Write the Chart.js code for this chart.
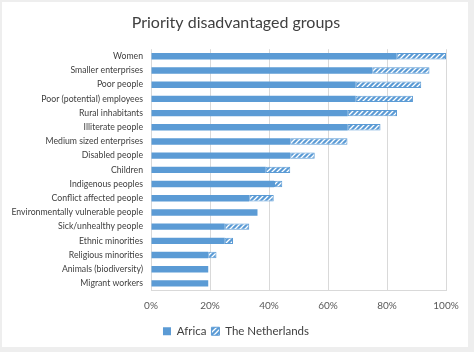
<!DOCTYPE html>
<html>
<head>
<meta charset="utf-8">
<script src="https://cdn.jsdelivr.net/npm/chart.js@4"></script>
<style>
  body { margin: 0; background: #eeeeee; }
  #box { position: absolute; left: 2px; top: 2px; width: 466px; height: 345px; background: #ffffff; }
</style>
</head>
<body>
<div id="box"><canvas id="myChart" width="466" height="345"></canvas></div>
<script>
/*==== data ====*/
const groups = [
    'Women',
    'Smaller enterprises',
    'Poor people',
    'Poor (potential) employees',
    'Rural inhabitants',
    'Illiterate people',
    'Medium sized enterprises',
    'Disabled people',
    'Children',
    'Indigenous peoples',
    'Conflict affected people',
    'Environmentally vulnerable people',
    'Sick/unhealthy people',
    'Ethnic minorities',
    'Religious minorities',
    'Animals (biodiversity)',
    'Migrant workers'
];
// share of respondents (%)
const africa = [83.3, 75.0, 69.4, 69.4, 66.7, 66.7, 47.2, 47.2, 38.9, 41.7, 33.3, 36.1, 25.0, 25.0, 19.4, 19.4, 19.4];
const netherlands = [16.7, 19.4, 22.2, 19.4, 16.7, 11.1, 19.4, 8.3, 8.3, 2.8, 8.3, 0, 8.3, 2.8, 2.8, 0, 0];
const xTicks = [0, 20, 40, 60, 80, 100];

/*==== hatch pattern ====*/
const blue = '#5b9bd5';
function makeHatch() {
    const c = document.createElement('canvas');
    c.width = 5;
    c.height = 5;
    const g = c.getContext('2d');
    g.fillStyle = blue;
    g.fillRect(0, 0, 5, 5);
    g.strokeStyle = '#ffffff';
    g.lineWidth = 1.3;
    g.beginPath();
    g.moveTo(-1, 6); g.lineTo(6, -1);
    g.moveTo(-1, 1); g.lineTo(1, -1);
    g.moveTo(4, 6); g.lineTo(6, 4);
    g.stroke();
    return g.createPattern(c, 'repeat');
}
const hatch = makeHatch();

/*==== config ====*/
const config = {
    type: 'bar',
    data: {
        labels: groups,
        datasets: [
            {
                label: 'Africa',
                data: africa,
                backgroundColor: blue,
                borderColor: blue,
                borderWidth: 0,
                categoryPercentage: 0.5,
                barPercentage: 0.9
            },
            {
                label: 'The Netherlands',
                data: netherlands,
                backgroundColor: hatch,
                borderColor: blue,
                borderWidth: 1,
                borderSkipped: false,
                categoryPercentage: 0.5,
                barPercentage: 0.9
            }
        ]
    },
    options: {
        indexAxis: 'y',
        responsive: false,
        animation: false,
        layout: { padding: { left: 2, right: 0, top: 0, bottom: 0 } },
        scales: {
            x: {
                stacked: true,
                min: 0,
                max: 100,
                afterBuildTicks: (s) => { s.ticks = xTicks.map(v => ({ value: v })); },
                afterFit: (s) => { s.paddingRight = 22; },
                ticks: {
                    callback: (v) => v + '%',
                    color: '#595959',
                    font: { family: 'Lato', size: 10 },
                    padding: 9
                },
                grid: { color: '#d9d9d9', drawTicks: false },
                border: { color: '#d9d9d9' }
            },
            y: {
                stacked: true,
                afterFit: (s) => { s.width = 147; },
                ticks: {
                    color: '#404040',
                    font: { family: 'Lato', size: 8.7 },
                    padding: 8,
                    autoSkip: false
                },
                grid: { display: false, drawTicks: false },
                border: { display: false }
            }
        },
        plugins: {
            title: {
                display: true,
                text: 'Priority disadvantaged groups',
                color: '#404040',
                font: { family: 'Lato', size: 16, weight: 'normal' },
                padding: { top: 11, bottom: 17 }
            },
            legend: {
                position: 'bottom',
                labels: {
                    color: '#404040',
                    font: { family: 'Lato', size: 11.5 },
                    boxWidth: 8,
                    boxHeight: 8,
                    padding: 5
                }
            },
            tooltip: { enabled: false }
        }
    }
};

/*===== render =====*/
const myChart = new Chart(document.getElementById('myChart'), config);
</script>
</body>
</html>
